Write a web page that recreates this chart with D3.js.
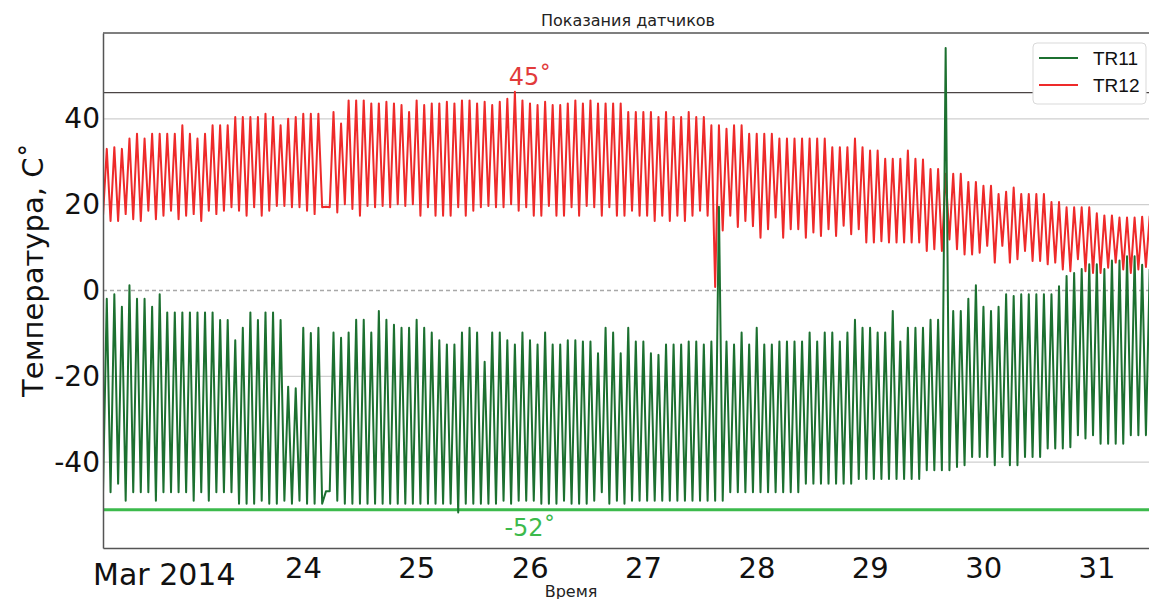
<!DOCTYPE html>
<html>
<head>
<meta charset="utf-8">
<script src="https://cdn.jsdelivr.net/npm/d3@7"></script>
<style>
body { margin: 0; background: #fff; }
svg { display: block; }
</style>
</head>
<body>
<div id="chart"></div>
<script>
// readings: one trough + one peak per 96 min cycle, rows = one day
var tr12Peaks = [
    33, 33.4, 33, 35.4, 36.5, 35.4, 36.5, 36.5, 36.5, 36.5, 38.5, 36.5, 35.4, 36.5, 38.5,
    38.5, 38.5, 40.4, 40.4, 40.4, 40.4, 41.2, 40.4, 38.5, 40, 40.4, 41.2, 41.2, 41.2, 19.5,
    41.6, 38.9, 44.3, 44.3, 44.3, 43.6, 43.6, 44, 43.6, 43.2, 41.6, 44.3, 43.2, 43.6, 43.6,
    44, 43.6, 44.3, 44.3, 43.6, 44, 43.2, 44, 44.7, 46.3, 44.3, 43.6, 43.2, 44, 43.2,
    43.2, 43.6, 44.3, 43.6, 44.3, 43.6, 43.6, 43.6, 43.6, 41.6, 41.6, 41.6, 41.6, 40.4, 41.6,
    40.4, 40.4, 41.6, 40.4, 40.4, 38.5, 38.5, 37.7, 38.5, 38.5, 36.5, 36.5, 36.5, 36.5, 35.4,
    35.4, 35.4, 35.4, 35.4, 35.4, 35.4, 33.4, 33.4, 33.4, 35.4, 33.4, 32.6, 32.6, 30.7, 30.7,
    30.7, 32.6, 30.7, 30.5, 28.3, 28.3, 27.2, 27.2, 27.2, 25.3, 25.3, 24.4, 24.4, 22.5, 23,
    24, 22.5, 22.5, 22.5, 22.5, 20.6, 20.6, 19.4, 19.4, 19.4, 19.4, 18, 17.5, 17.5, 17,
    17, 17, 17.2, 17.4
];
var tr12Troughs = [
    17.4, 16.2, 16.2, 17.8, 16.6, 16.2, 18.6, 16.6, 17.4, 18.6, 16.6, 17.4, 17.8, 16.2, 18.6,
    17.8, 18.6, 19.4, 18.6, 17.4, 19.4, 17.4, 18.6, 19.7, 19.7, 19.4, 19.4, 18.6, 17.8, 19.4,
    19.4, 18.2, 20.1, 19, 17.4, 19.7, 19.4, 19.7, 19.4, 20.1, 19.7, 20.1, 17.4, 19.4, 17.4,
    17.4, 17.4, 19.4, 17.4, 18.6, 19.4, 19.7, 19.4, 19.4, 20.1, 18.6, 19.4, 17.4, 17.4, 19.7,
    17.4, 17.4, 19.4, 17.4, 19.7, 19.4, 17.4, 19.4, 17.4, 17.4, 18.6, 17.4, 17.4, 16.2, 17.4,
    16.2, 17.4, 16.2, 17.4, 18.6, 17.4, 0.8, 14, 17.4, 14.8, 16.2, 15, 12.3, 14.3, 17,
    12.3, 14.3, 14.3, 12.3, 13.5, 12.7, 14.3, 12.7, 15.1, 13.1, 14.3, 11.2, 11.2, 11.5, 11.2,
    11.2, 11.2, 11.2, 11.2, 9.2, 9.6, 9.2, 11.9, 9.6, 8.4, 8.4, 8.8, 10.4, 6.5, 10.4,
    6.5, 7.3, 9.2, 6.9, 6.9, 6.1, 6.5, 4.9, 4.5, 7.3, 4.5, 4.1, 4.1, 5.3, 6.5,
    4.9, 4.1, 4.9, 5.5
];
var tr11Peaks = [
    -1.9, -0.9, -3.8, 1.2, -1.9, -1.9, -3.8, -0.9, -5.1, -5.1, -5.1, -5.1, -5.1, -5.1, -5.1,
    -6.9, -6.9, -11.6, -8.7, -5.1, -6.9, -5.1, -5.1, -6.9, -22.4, -22.8, -8.7, -9.9, -8.7, -46.8,
    -9.8, -11, -9.8, -6.8, -6.8, -9.8, -4.8, -6.8, -8, -8.7, -8.7, -6.8, -8.7, -9.8, -11.6,
    -12.6, -12.6, -9.8, -8.7, -9.8, -16.6, -9.8, -9.8, -11.6, -12.6, -9.8, -11.6, -12.6, -9.8, -12.6,
    -12.6, -11.6, -11.6, -11.9, -11.9, -14.6, -8.7, -9.8, -14.6, -8.7, -11.9, -11.9, -14.6, -15, -12.6,
    -12.6, -12.6, -11.9, -11.9, -12.6, -11.9, 19.5, -11.9, -12.6, -9.8, -12.6, -8.7, -12.6, -12.6, -11.9,
    -11.9, -11.9, -11.9, -9.8, -11.9, -9.8, -9.8, -11.9, -9.8, -6.8, -8.7, -8.7, -9.8, -9.8, -4.8,
    -11.9, -8.7, -8.7, -8.7, -6.8, -6.8, 56.5, -4.8, -4.8, -1.9, 1.2, -3.8, -4.8, -3.8, -0.9,
    -1.3, -0.9, -0.9, -0.9, -0.9, -0.9, 1, 3.4, 4.1, 5, 6.1, 6.1, 5, 7, 7,
    8, 8, 6, 5
];
var tr11Troughs = [
    -47, -47, -45, -49, -47, -47, -47, -49, -47, -47, -47, -47, -49, -47, -49,
    -47, -47, -47, -49.7, -49.7, -49.7, -49, -49.7, -49.7, -49, -49.7, -49, -49.7, -49.7, -49.7,
    -46.8, -49, -49.7, -49.7, -49.7, -49.7, -49.7, -49.7, -49.7, -49.7, -49.7, -49.7, -49.7, -49.7, -49.7,
    -49.7, -49.7, -51.7, -49.7, -49.7, -49.7, -49.7, -49.7, -49, -49.7, -49, -49, -49, -49.7, -49.7,
    -49.7, -49, -49.7, -49.7, -49.7, -49, -47, -49.7, -49, -49.7, -49, -49, -49, -49, -49,
    -49, -49, -49, -49, -49, -49, -49, -49, -47, -47, -47, -47, -47, -47, -47,
    -47, -47, -47, -45, -45, -45, -45, -45, -45, -45, -43.9, -43.9, -43.9, -43.9, -43.9,
    -43.9, -43.9, -43.9, -43.9, -41.9, -41.9, -41.9, -41.9, -41.1, -40.7, -38.8, -38.8, -38.8, -40.7, -38.8,
    -40.7, -40.7, -38.8, -38.8, -38.8, -36.8, -36.8, -36.8, -36.5, -33.7, -34.5, -33.7, -35.7, -35.7, -35.7,
    -35.7, -33.7, -33.7, -33.7
];

var seriesNames = ["TR11", "TR12"];
var seriesColors = ["#1c7030", "#ee2a2a"];
var yTicks = [-40, -20, 0, 20, 40];
var dayTicks = [24, 25, 26, 27, 28, 29, 30, 31];
var refLines = [
    { value: 46.1, label: "45˚", color: "#4a4444", textColor: "#e23b3b" },
    { value: -51.1, label: "-52˚", color: "#3cba4c", textColor: "#3cba4c" }
];

var startTime = new Date(2014, 2, 22, 5, 40);
var endTime = new Date(2014, 2, 31, 11, 7);
var cycleMin = 96;

var w = 1149, h = 599;
var mLeft = 103, mTop = 33, mBottom = 548;

var svg = d3.select("#chart").append("svg")
    .attr("width", w)
    .attr("height", h);

var x = d3.scaleTime().domain([startTime, endTime]).range([mLeft, w]);
var y = d3.scaleLinear().domain([-60, 60]).range([mBottom, mTop]);

//trough at start of each cycle, peak half a cycle later
function toPoints(troughs, peaks) {
    var pts = [];
    for (var k = 0; k < troughs.length; k++) {
        var t = startTime.getTime() + k * cycleMin * 60000;
        pts.push({ t: new Date(t), v: troughs[k] });
        pts.push({ t: new Date(t + cycleMin * 30000), v: peaks[k] });
    }
    return pts;
}

svg.append("defs").append("clipPath").attr("id", "clip")
    .append("rect")
    .attr("x", mLeft).attr("y", mTop)
    .attr("width", w - mLeft).attr("height", mBottom - mTop);

// grid
svg.append("g").selectAll("line")
    .data(yTicks)
    .enter().append("line")
    .attr("x1", mLeft).attr("x2", w)
    .attr("y1", function(d) { return y(d); })
    .attr("y2", function(d) { return y(d); })
    .attr("stroke", function(d) { return d == 0 ? "#a8a8a8" : "#cfcfcf"; })
    .attr("stroke-width", 1.3)
    .attr("stroke-dasharray", function(d) { return d == 0 ? "4,3" : null; });

// reference lines
svg.append("g").selectAll("line")
    .data(refLines)
    .enter().append("line")
    .attr("x1", mLeft).attr("x2", w)
    .attr("y1", function(d) { return y(d.value); })
    .attr("y2", function(d) { return y(d.value); })
    .attr("stroke", function(d) { return d.color; })
    .attr("stroke-width", function(d, i) { return i == 0 ? 1.2 : 3; });

svg.append("g").selectAll("text")
    .data(refLines)
    .enter().append("text")
    .attr("x", 530)
    .attr("y", function(d, i) { return i == 0 ? y(d.value) - 8 : y(d.value) + 26; })
    .attr("text-anchor", "middle")
    .attr("fill", function(d) { return d.textColor; })
    .style("font", "24px 'DejaVu Sans'")
    .text(function(d) { return d.label; });

var line = d3.line()
    .x(function(d) { return x(d.t); })
    .y(function(d) { return y(d.v); });

var plot = svg.append("g").attr("clip-path", "url(#clip)");

plot.append("path")
    .datum(toPoints(tr12Troughs, tr12Peaks))
    .attr("fill", "none")
    .attr("stroke", seriesColors[1])
    .attr("stroke-width", 2)
    .attr("stroke-linejoin", "round")
    .attr("d", line);

plot.append("path")
    .datum(toPoints(tr11Troughs, tr11Peaks))
    .attr("fill", "none")
    .attr("stroke", seriesColors[0])
    .attr("stroke-width", 2)
    .attr("stroke-linejoin", "round")
    .attr("d", line);

// axes (plain hyphen for negatives, like the original)
var yAxis = svg.append("g")
    .attr("transform", "translate(" + mLeft + ",0)")
    .call(d3.axisLeft(y).tickValues(yTicks)
        .tickFormat(function(d) { return String(d); })
        .tickSize(0).tickPadding(3));
yAxis.select(".domain").attr("stroke", "#555").attr("stroke-width", 1.5);
yAxis.selectAll("text").style("font", "28px 'DejaVu Sans'").attr("fill", "#111");

var xAxis = svg.append("g")
    .attr("transform", "translate(0," + mBottom + ")")
    .call(d3.axisBottom(x)
        .tickValues(dayTicks.map(function(d) { return new Date(2014, 2, d); }))
        .tickFormat(d3.timeFormat("%-d"))
        .tickSize(0).tickPadding(9));
xAxis.select(".domain").attr("stroke", "#555").attr("stroke-width", 1.5);
xAxis.selectAll("text").style("font", "29px 'DejaVu Sans'").attr("fill", "#111");

// top spine
svg.append("line")
    .attr("x1", mLeft).attr("x2", w)
    .attr("y1", mTop).attr("y2", mTop)
    .attr("stroke", "#555").attr("stroke-width", 1.5);

svg.append("text")
    .attr("x", 93).attr("y", 585)
    .style("font", "30px 'DejaVu Sans'")
    .attr("fill", "#111")
    .text("Mar 2014");

svg.append("text")
    .attr("transform", "translate(33,270) rotate(-90)")
    .attr("text-anchor", "middle")
    .attr("dy", "0.35em")
    .style("font", "29px 'DejaVu Sans'")
    .attr("fill", "#111")
    .text("Температура, С˚");

svg.append("text")
    .attr("x", 628).attr("y", 26)
    .attr("text-anchor", "middle")
    .style("font", "16px 'DejaVu Sans'")
    .attr("fill", "#222")
    .text("Показания датчиков");

svg.append("text")
    .attr("x", 571).attr("y", 597)
    .attr("text-anchor", "middle")
    .style("font", "16px 'DejaVu Sans'")
    .attr("fill", "#222")
    .text("Время");

// legend
var legend = svg.append("g");
legend.append("rect")
    .attr("x", 1033).attr("y", 43)
    .attr("width", 113).attr("height", 61)
    .attr("rx", 4)
    .attr("fill", "#fff")
    .attr("stroke", "#d9d9d9");

var items = legend.selectAll(".item")
    .data(seriesNames)
    .enter().append("g")
    .attr("transform", function(d, i) { return "translate(1039," + (58 + i * 27) + ")"; });
items.append("line")
    .attr("x1", 0).attr("x2", 39)
    .attr("stroke", function(d, i) { return seriesColors[i]; })
    .attr("stroke-width", 2);
items.append("text")
    .attr("x", 54)
    .attr("dy", "0.35em")
    .style("font", "19px 'Liberation Sans'")
    .attr("fill", "#111")
    .text(function(d) { return d; });
</script>
</body>
</html>
